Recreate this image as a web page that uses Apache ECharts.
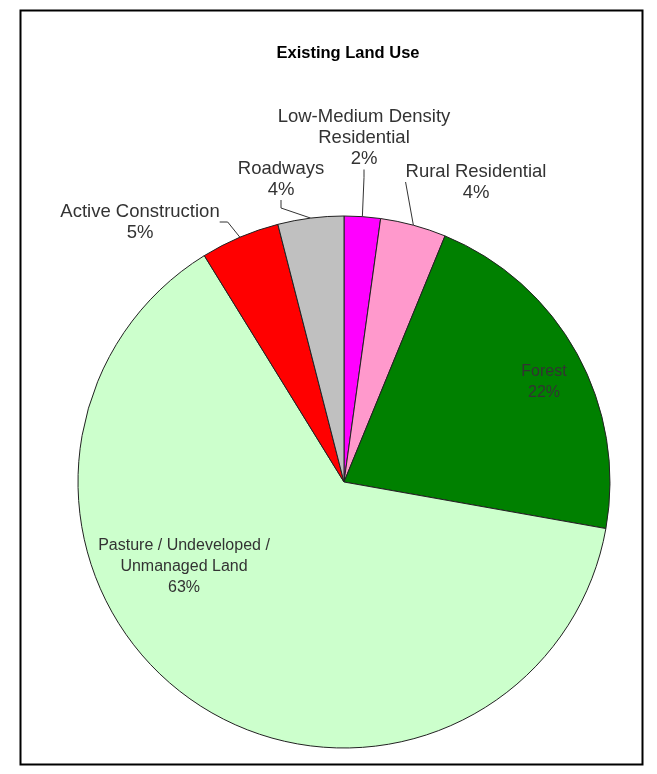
<!DOCTYPE html>
<html><head><meta charset="utf-8">
<script src="https://cdn.jsdelivr.net/npm/echarts@6/dist/echarts.min.js"></script>
<style>html,body{margin:0;padding:0;background:#fff}#c{width:657px;height:774px}</style>
</head><body><div id="c"></div>
<script>
// ---- data ----
const categories = ['Low-Medium Density Residential', 'Rural Residential', 'Forest', 'Pasture / Undeveloped / Unmanaged Land', 'Active Construction', 'Roadways'];
const labelTexts = ['Low-Medium Density\nResidential', 'Rural Residential', 'Forest', 'Pasture / Undeveloped /\nUnmanaged Land', 'Active Construction', 'Roadways'];
const values = [2.2, 4.0, 21.6, 63.4, 4.8, 4.0];
// ---- styling / layout (not data) ----
const colors = ['#FF00FF', '#FF99CC', '#008000', '#CCFFCC', '#FF0000', '#C0C0C0'];
const insideLabel = [false, false, true, true, false, false];
const labelAnchor = [[364, 138], [476, 182], [544, 382], [184, 567], [140, 222], [281, 179]];

const chart = echarts.init(document.getElementById('c'), null, {renderer: 'canvas'});
const font = '"Liberation Sans", Arial, sans-serif';
chart.setOption({
  animation: false,
  backgroundColor: '#fff',
  title: {
    text: 'Existing Land Use',
    left: 343,
    textAlign: 'center',
    top: 40,
    textStyle: {fontFamily: font, fontWeight: 'bold', fontSize: 16.5, color: '#000'}
  },
  graphic: [{
    type: 'rect', left: 18, top: 8,
    shape: {width: 622, height: 754},
    style: {fill: null, stroke: '#000', lineWidth: 2},
    silent: true, z: 100
  }],
  series: [{
    type: 'pie',
    center: [344, 482],
    radius: 266,
    startAngle: 90,
    clockwise: true,
    avoidLabelOverlap: false,
    data: categories.map((c, i) => ({
      name: c,
      value: values[i],
      itemStyle: {color: colors[i]},
      label: insideLabel[i]
        ? {position: 'inside', fontSize: 16, lineHeight: 21}
        : {position: 'outside', fontSize: 18.5, lineHeight: 21},
      labelLine: {show: !insideLabel[i]}
    })),
    itemStyle: {borderColor: '#222', borderWidth: 1},
    label: {
      formatter: p => labelTexts[p.dataIndex] + '\n' + Math.round(p.percent) + '%',
      fontFamily: font, color: '#333', align: 'center'
    },
    labelLine: {show: true, length: 8, length2: 8, lineStyle: {color: '#333', width: 1}},
    labelLayout: params => {
      const a = labelAnchor[params.dataIndex];
      return {x: a[0], y: a[1], align: 'center', verticalAlign: 'middle'};
    },
    emphasis: {disabled: true}
  }]
});
</script></body></html>
